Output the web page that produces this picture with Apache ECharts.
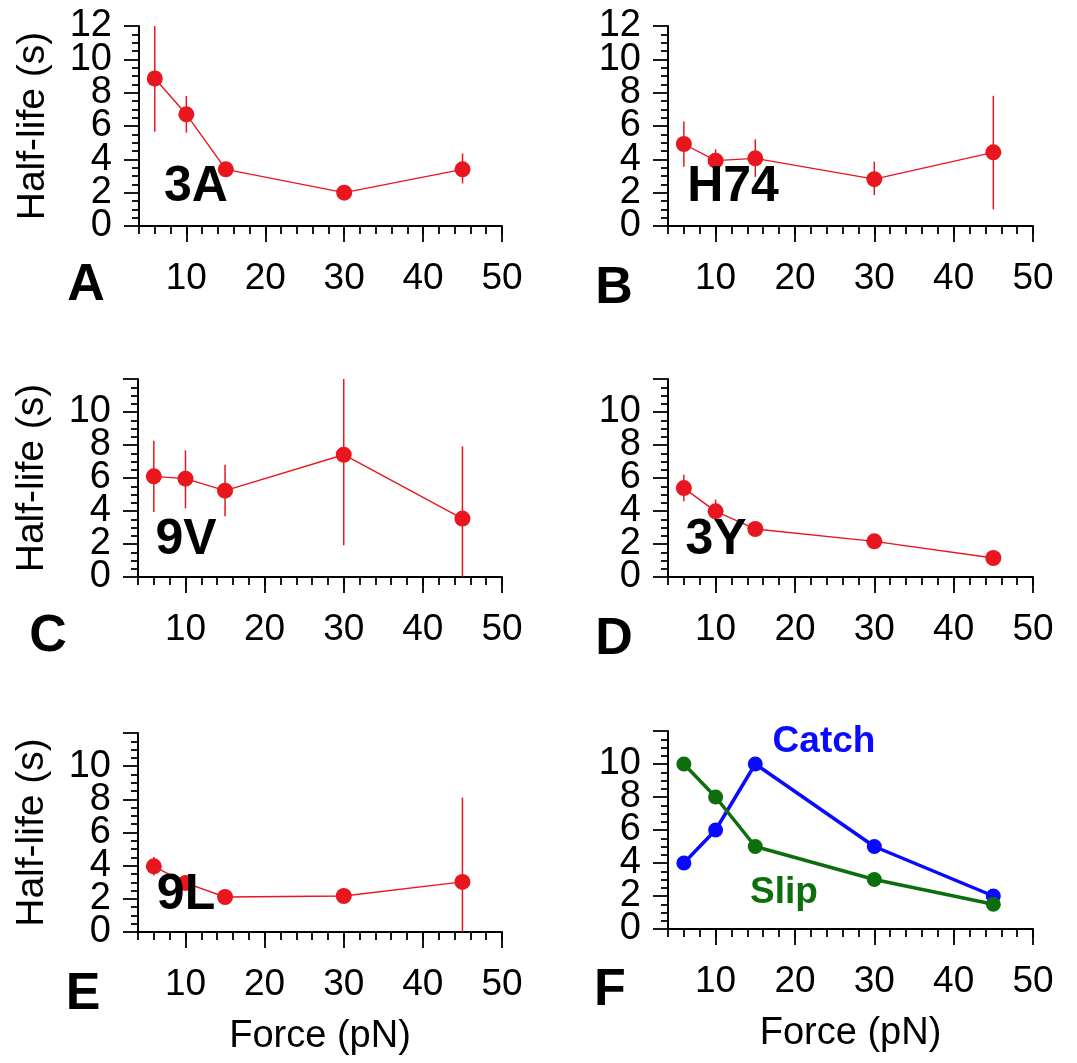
<!DOCTYPE html>
<html><head><meta charset="utf-8">
<script src="https://cdn.jsdelivr.net/npm/echarts@6/dist/echarts.min.js"></script>
<style>html,body{margin:0;padding:0;background:#fff}#c{width:1077px;height:1063px}</style>
</head><body><div id="c"></div>
<script>
// ---- data ----
const force = [6, 10, 15, 30, 45];

const halfA = [8.85, 6.7, 3.4, 2.0, 3.4];
const lowA  = [5.65, 5.6, 3.2, 1.8, 2.55];
const highA = [12.0, 7.8, 3.6, 2.2, 4.35];

const halfB = [4.92, 3.92, 4.06, 2.81, 4.42];
const lowB  = [3.55, 3.4, 2.95, 1.85, 1.0];
const highB = [6.27, 4.6, 5.2, 3.86, 7.81];

const halfC = [6.1, 5.96, 5.23, 7.41, 3.54];
const lowC  = [3.94, 4.16, 3.68, 1.92, 0];
const highC = [8.26, 7.68, 6.81, 12.0, 7.92];

const halfD = [5.39, 3.98, 2.91, 2.16, 1.15];
const lowD  = [4.59, 3.4, 2.7, 1.95, 0.95];
const highD = [6.2, 4.69, 3.1, 2.35, 1.35];

const halfE = [3.96, 2.96, 2.11, 2.17, 3.02];
const lowE  = [3.4, 2.7, 1.9, 1.95, 0];
const highE = [4.53, 3.2, 2.3, 2.4, 8.11];

const catchF = [4, 6, 10, 5, 2];
const slipF  = [10, 8, 5, 3, 1.5];

const panelNames = ['3A', 'H74', '9V', '3Y', '9L'];
const panelLetters = ['A', 'B', 'C', 'D', 'E', 'F'];

// axis tick settings (values)
const xMin = 4, xMax = 50, xMinorStep = 2;
const xMajorTicks = [10, 20, 30, 40, 50];
const yMin = 0, yMax = 12, yMajorStep = 2;
// y tick labels, split in two alternating sets so that the tall labels are all shown
const yLabelsTopA = [0, 4, 8, 12];
const yLabelsTopB = [2, 6, 10];
const yLabelsLowA = [0, 4, 8];
const yLabelsLowB = [2, 6, 10];

// ---- layout ----
const FONT = 'Liberation Sans, Arial, sans-serif';
const RED = '#e8161f', BLUE = '#0a0aff', GREEN = '#0d6e0d';
const grids = [
  {left: 139, top: 26, width: 363, height: 200},
  {left: 668, top: 26, width: 365, height: 200},
  {left: 138, top: 379, width: 364, height: 198},
  {left: 668, top: 379, width: 365, height: 198},
  {left: 138, top: 733, width: 364, height: 199},
  {left: 668, top: 731, width: 365, height: 198}
];

const yLabelStyle = {fontSize: 38, color: '#000', margin: 27, fontFamily: FONT,
  showMinLabel: true, showMaxLabel: true, hideOverlap: false};

const xAxes = [], yAxes = [], series = [];
grids.forEach((g, gi) => {
  const showXName = gi >= 4;
  const showYName = gi % 2 === 0;
  const topLabel = gi < 2;
  // major x axis (long ticks at 10s, labels)
  xAxes.push({
    gridIndex: gi, type: 'value', min: xMin, max: xMax, position: 'bottom',
    name: showXName ? 'Force (pN)' : '', nameLocation: 'middle', nameGap: 86,
    nameTextStyle: {fontSize: 38, color: '#000', fontFamily: FONT},
    axisLine: {show: true, onZero: false, lineStyle: {color: '#000', width: 2}},
    axisTick: {show: true, customValues: xMajorTicks, length: 16, lineStyle: {color: '#000', width: 1.8}},
    axisLabel: {customValues: xMajorTicks, fontSize: 37, color: '#000', margin: 34, fontFamily: FONT,
      showMinLabel: true, showMaxLabel: true, hideOverlap: false},
    splitLine: {show: false}
  });
  // minor x axis (ticks every 2)
  xAxes.push({
    gridIndex: gi, type: 'value', min: xMin, max: xMax, interval: xMinorStep, position: 'bottom',
    axisLine: {show: false, onZero: false},
    axisTick: {show: true, length: 8, lineStyle: {color: '#000', width: 1.8}},
    axisLabel: {show: false}, splitLine: {show: false}
  });
  // main y axis: line, major + minor ticks, half of the labels
  yAxes.push({
    gridIndex: gi, type: 'value', min: yMin, max: yMax, interval: yMajorStep, position: 'left',
    name: showYName ? 'Half-life (s)' : '', nameLocation: 'middle', nameGap: 86, nameRotate: 90,
    nameTextStyle: {fontSize: 39, color: '#000', fontFamily: FONT},
    axisLine: {show: true, onZero: false, lineStyle: {color: '#000', width: 2}},
    axisTick: {show: true, length: 15, lineStyle: {color: '#000', width: 1.8}},
    minorTick: {show: true, splitNumber: 4, length: 7, lineStyle: {color: '#000', width: 1.8}},
    axisLabel: Object.assign({customValues: topLabel ? yLabelsTopA : yLabelsLowA}, yLabelStyle),
    splitLine: {show: false}, minorSplitLine: {show: false}
  });
  // second y axis: the other half of the labels
  yAxes.push({
    gridIndex: gi, type: 'value', min: yMin, max: yMax, position: 'left',
    axisLine: {show: false, onZero: false}, axisTick: {show: false},
    axisLabel: Object.assign({customValues: topLabel ? yLabelsTopB : yLabelsLowB}, yLabelStyle),
    splitLine: {show: false}
  });
});

function errItem(params, api) {
  const x = api.value(0), lo = api.value(1), hi = api.value(2);
  const p1 = api.coord([x, lo]), p2 = api.coord([x, hi]);
  return {type: 'line', shape: {x1: p1[0], y1: p1[1], x2: p2[0], y2: p2[1]},
          style: {stroke: RED, lineWidth: 1.5}};
}

const redSets = [[halfA, lowA, highA], [halfB, lowB, highB], [halfC, lowC, highC], [halfD, lowD, highD], [halfE, lowE, highE]];
redSets.forEach((set, gi) => {
  const [half, low, high] = set;
  series.push({
    type: 'custom', xAxisIndex: gi * 2, yAxisIndex: gi * 2, renderItem: errItem,
    data: force.map((f, i) => [f, low[i], high[i]]), encode: {x: 0, y: [1, 2]}, z: 2, clip: false
  });
  series.push({
    type: 'line', xAxisIndex: gi * 2, yAxisIndex: gi * 2,
    data: force.map((f, i) => [f, half[i]]),
    symbol: 'circle', symbolSize: 16, color: RED,
    itemStyle: {color: RED}, lineStyle: {color: RED, width: 1.4}, z: 3
  });
});
series.push({
  type: 'line', xAxisIndex: 10, yAxisIndex: 10, data: force.map((f, i) => [f, catchF[i]]),
  symbol: 'circle', symbolSize: 15, itemStyle: {color: BLUE}, lineStyle: {color: BLUE, width: 3.5}, z: 3
});
series.push({
  type: 'line', xAxisIndex: 10, yAxisIndex: 10, data: force.map((f, i) => [f, slipF[i]]),
  symbol: 'circle', symbolSize: 15, itemStyle: {color: GREEN}, lineStyle: {color: GREEN, width: 3.5}, z: 4
});

const letterPos = [[86, 286], [614, 289], [48, 637], [614, 640], [83, 995], [610, 991]];
const namePos = [[196, 187], [733, 187], [186, 540], [716, 540], [186, 895]];
const graphic = [];
panelLetters.forEach((L, i) => graphic.push({
  type: 'text', x: letterPos[i][0], y: letterPos[i][1], z: 100,
  style: {text: L, fontSize: 52, fontWeight: 'bold', fontFamily: FONT, fill: '#000', align: 'center', verticalAlign: 'middle'}
}));
panelNames.forEach((n, i) => graphic.push({
  type: 'text', x: namePos[i][0], y: namePos[i][1], z: 100,
  style: {text: n, fontSize: 50, fontWeight: 'bold', fontFamily: FONT, fill: '#000', align: 'center', verticalAlign: 'middle'}
}));
graphic.push({type: 'text', x: 824, y: 742, z: 100,
  style: {text: 'Catch', fontSize: 37, fontWeight: 'bold', fontFamily: FONT, fill: BLUE, align: 'center', verticalAlign: 'middle'}});
graphic.push({type: 'text', x: 784, y: 893, z: 100,
  style: {text: 'Slip', fontSize: 37, fontWeight: 'bold', fontFamily: FONT, fill: GREEN, align: 'center', verticalAlign: 'middle'}});

const chart = echarts.init(document.getElementById('c'), null, {renderer: 'canvas'});
chart.setOption({
  animation: false,
  backgroundColor: '#fff',
  grid: grids,
  xAxis: xAxes,
  yAxis: yAxes,
  series: series,
  graphic: graphic
});
</script></body></html>
